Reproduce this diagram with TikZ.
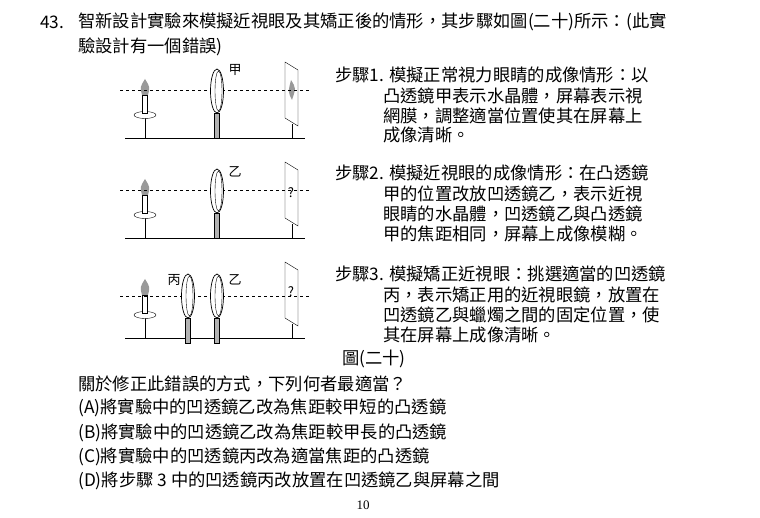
\documentclass[tikz,border=0pt]{standalone}
\usepackage{fontspec}
\setmainfont{Liberation Serif}
\newfontfamily\cjk{Noto Sans CJK TC}
\begin{document}
\begin{tikzpicture}[x=1pt,y=-1pt,
  txt/.style={anchor=west,inner sep=0pt,font=\cjk\fontsize{17.3}{19}\selectfont},
  lab/.style={inner sep=0pt,font=\cjk\fontsize{13}{14}\selectfont},
  stem/.style={draw=black,fill=gray!60,line width=0.4pt}]
\useasboundingbox (0,0) rectangle (760,518);
\newcommand\lensat[2]{%
  \filldraw[stem] (#1-2.5,#2+22) rectangle (#1+2.5,#2+47);
  \draw[line width=0.7pt,fill=white] (#1,#2) ellipse (6.5 and 22);
  \draw[line width=0.4pt] (#1+1.5,#2) ellipse (3.5 and 20);}
\newcommand\rig[2]{% #1 y offset, #2 screen content
 \begin{scope}[shift={(0,#1)}]
  \draw[line width=0.9pt] (125,138) -- (305,138);
  \draw[line width=0.6pt] (145,138) -- (145,118);
  \draw[fill=white] (145,115) ellipse (11 and 3.5);
  \draw[fill=white] (142.5,95) rectangle (147.5,113);
  \fill[gray!80] (145,79) .. controls (140,87) .. (142,95) -- (148,95) .. controls (150,87) .. (145,79);
  \draw[line width=0.6pt] (292,138) -- (292,124);
  \draw[fill=white] (285,62) -- (298,70) -- (298,126) -- (285,118) -- cycle;
  #2
 \end{scope}}
\rig{0}{\fill[gray!80] (291,80) .. controls (296,88) .. (292,100) .. controls (288,92) .. (291,80);}
\rig{100}{\node[lab] (q2) at (291,93) {?};}
\rig{200}{\node[lab] (q3) at (291,92) {?};}
\foreach \y in {90,190,296} \draw[dashed,line width=0.5pt] (120,\y) -- (310,\y);
\lensat{217}{91}
\lensat{217}{191}
\lensat{217}{296}
\lensat{188}{296}
\node[lab] (l1) at (235,70) {甲};
\node[lab] (l2) at (235,172) {乙};
\node[lab] (l3) at (235,280) {乙};
\node[lab] (l4) at (174,280) {丙};
\node[txt] (h0) at (40,22) {43.};
\node[txt] (h1) at (78,22) {智新設計實驗來模擬近視眼及其矯正後的情形，其步驟如圖(二十)所示：(此實};
\node[txt] (h2) at (78,47) {驗設計有一個錯誤)};
\node[txt] (s1) at (335,75) {步驟1. 模擬正常視力眼睛的成像情形：以};
\node[txt] (s1b) at (383,96) {凸透鏡甲表示水晶體，屏幕表示視};
\node[txt] (s1c) at (383,116) {網膜，調整適當位置使其在屏幕上};
\node[txt] (s1d) at (383,135) {成像清晰。};
\node[txt] (s2) at (335,173) {步驟2. 模擬近視眼的成像情形：在凸透鏡};
\node[txt] (s2b) at (383,194) {甲的位置改放凹透鏡乙，表示近視};
\node[txt] (s2c) at (383,214) {眼睛的水晶體，凹透鏡乙與凸透鏡};
\node[txt] (s2d) at (383,234) {甲的焦距相同，屏幕上成像模糊。};
\node[txt] (s3) at (335,274) {步驟3. 模擬矯正近視眼：挑選適當的凹透鏡};
\node[txt] (s3b) at (383,295) {丙，表示矯正用的近視眼鏡，放置在};
\node[txt] (s3c) at (383,315) {凹透鏡乙與蠟燭之間的固定位置，使};
\node[txt] (s3d) at (383,335) {其在屏幕上成像清晰。};
\node[txt] (cap) at (342,359) {圖(二十)};
\node[txt] (q0) at (78,384) {關於修正此錯誤的方式，下列何者最適當？};
\node[txt] (qa) at (78,408) {(A)將實驗中的凹透鏡乙改為焦距較甲短的凸透鏡};
\node[txt] (qb) at (78,433) {(B)將實驗中的凹透鏡乙改為焦距較甲長的凸透鏡};
\node[txt] (qc) at (78,457) {(C)將實驗中的凹透鏡丙改為適當焦距的凸透鏡};
\node[txt] (qd) at (78,481) {(D)將步驟 3 中的凹透鏡丙改放置在凹透鏡乙與屏幕之間};
\node[inner sep=0pt,font=\fontsize{13}{14}\selectfont] (pg) at (363,505) {10};
\end{tikzpicture}
\end{document}
